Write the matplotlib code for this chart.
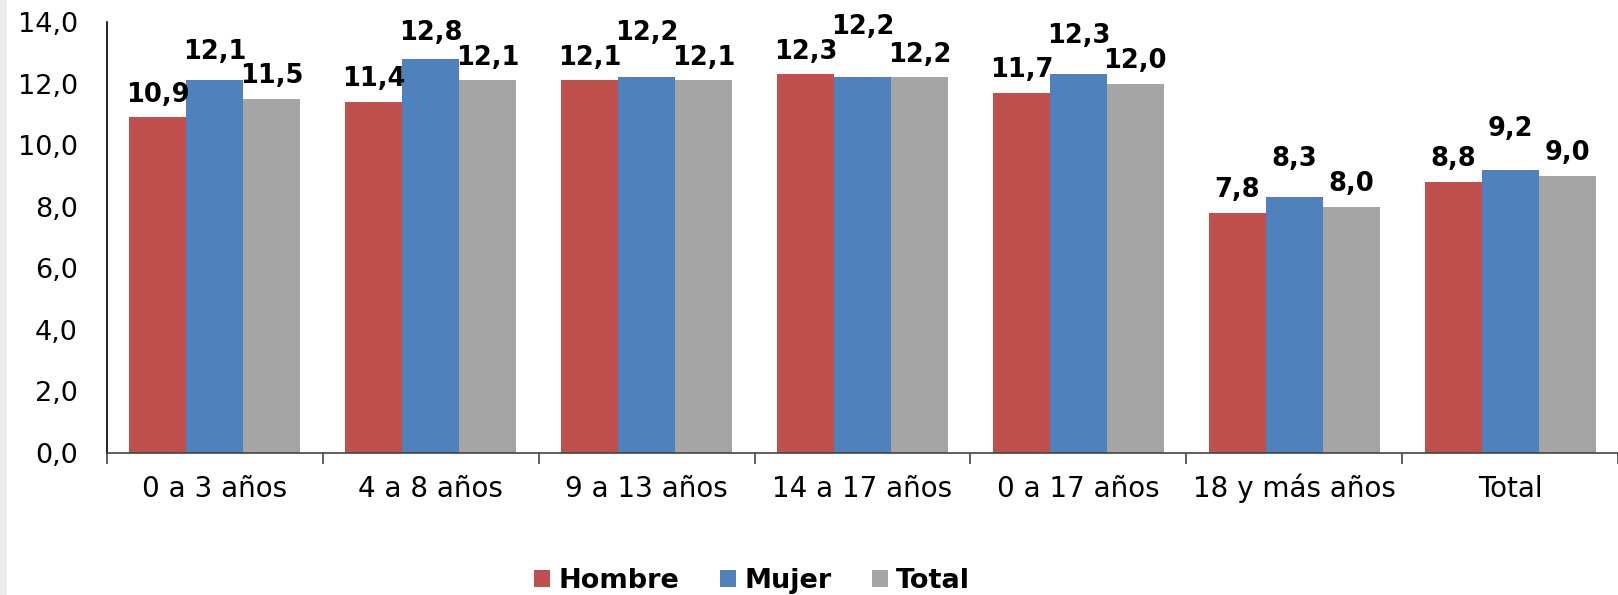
import matplotlib
matplotlib.use("Agg")
import matplotlib.pyplot as plt
from matplotlib.patches import Rectangle
import numpy as np

categories = ["0 a 3 años", "4 a 8 años", "9 a 13 años", "14 a 17 años",
              "0 a 17 años", "18 y más años", "Total"]
hombre = [10.9, 11.4, 12.1, 12.3, 11.7, 7.8, 8.8]
mujer = [12.1, 12.8, 12.2, 12.2, 12.3, 8.3, 9.2]
total = [11.5, 12.1, 12.1, 12.2, 12.0, 8.0, 9.0]
series_names = ["Hombre", "Mujer", "Total"]
colors = ["#C0504D", "#4F81BD", "#A5A5A5"]
yticks = [0, 2, 4, 6, 8, 10, 12, 14]

plt.rcParams['font.family'] = ['DejaVu Sans']

fig = plt.figure(figsize=(16.18, 5.95), dpi=100)
fig.patches.append(Rectangle((0, 0), 7 / 1618, 1, transform=fig.transFigure,
                             facecolor="#ECECEC", edgecolor="none", zorder=0))
ax = fig.add_axes([107 / 1618, (595 - 453) / 595, 1 - 107 / 1618, (453 - 22) / 595])

x = np.arange(len(categories))
w = 0.264
data = [hombre, mujer, total]
for i, (vals, name, c) in enumerate(zip(data, series_names, colors)):
    ax.bar(x + (i - 1) * w, vals, width=w, color=c, label=name, linewidth=0)

# data labels with simple de-confliction of the middle label
off = 0.74
h = 0.8
for j in range(len(categories)):
    ys = [data[i][j] + off for i in range(3)]
    if abs(ys[1] - ys[0]) < h or abs(ys[1] - ys[2]) < h:
        ys[1] = max(ys[1], max(ys[0], ys[2]) + h)
    for i in range(3):
        ax.text(x[j] + (i - 1) * w, ys[i], f"{data[i][j]:.1f}".replace(".", ","),
                ha="center", va="center", fontsize=18.5, fontweight="bold",
                clip_on=False)

ax.set_xlim(-0.5, len(categories) - 0.5)
ax.set_ylim(0, 14)
ax.set_yticks(yticks)
ax.set_yticklabels([f"{v:.1f}".replace(".", ",") for v in yticks], fontsize=19.5)
ax.tick_params(axis="y", length=0, pad=21)

ax.set_xticks(x)
ax.set_xticklabels(categories, fontsize=20, va="baseline")
ax.set_xticks(np.arange(-0.5, len(categories) + 0.5, 1), minor=True)
ax.tick_params(axis="x", which="major", length=0, pad=32)
ax.tick_params(axis="x", which="minor", length=8, width=1.2, color="#444444")

for s in ["top", "right"]:
    ax.spines[s].set_visible(False)
ax.spines["left"].set_color("black")
ax.spines["left"].set_linewidth(1.2)
ax.spines["bottom"].set_color("#444444")
ax.spines["bottom"].set_linewidth(1.2)

leg = fig.legend(loc="center", bbox_to_anchor=(752 / 1618, 1 - 581 / 595),
                 ncol=3, frameon=False, prop={"weight": "bold", "size": 19.5},
                 handlelength=0.6, handleheight=0.6, handletextpad=0.3,
                 columnspacing=1.5)

fig.savefig("out.png", dpi=100)
